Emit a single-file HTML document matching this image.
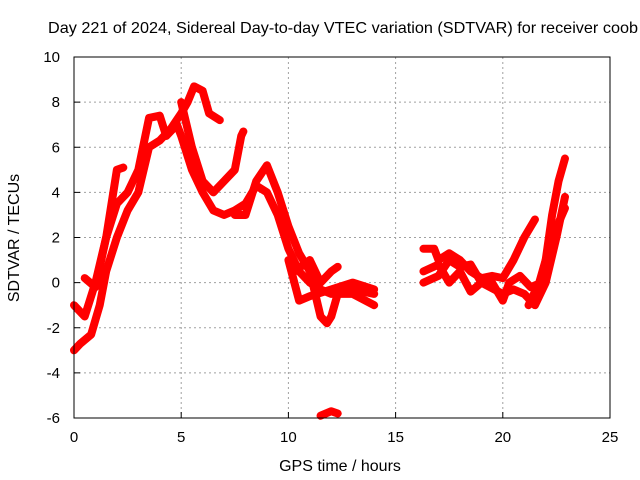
<!DOCTYPE html>
<html><head><meta charset="utf-8"><style>
body{margin:0;background:#fff}
svg{display:block;font-family:"Liberation Sans",sans-serif}
</style></head><body>
<svg id="chart" width="640" height="480" viewBox="0 0 640 480">
<rect width="640" height="480" fill="#fff"/>
<text x="48" y="33" font-size="16" textLength="590" lengthAdjust="spacingAndGlyphs">Day 221 of 2024, Sidereal Day-to-day VTEC variation (SDTVAR) for receiver coob</text>
<g id="grid"></g>
<g id="series"></g>
<rect x="74" y="57" width="536" height="361" fill="none" stroke="#000" stroke-width="1"/>
<g id="ticks"></g>
<text x="340" y="471" font-size="16" text-anchor="middle">GPS time / hours</text>
<text x="19" y="238" font-size="16" text-anchor="middle" transform="rotate(-90 19 238)">SDTVAR / TECUs</text>
</svg>
<script>
const xTicks=[0,5,10,15,20,25];
const yTicks=[-6,-4,-2,0,2,4,6,8,10];
const trackA=[[0,-3],[0.3,-2.7],[0.8,-2.3],[1.2,-1],[1.5,0.5],[2,2],[2.5,3.2],[3,4],[3.5,6],[4,6.3],[4.5,6.8],[5,7.5],[5.3,8],[5.6,8.7],[6,8.5],[6.3,7.5],[6.8,7.2]];
const trackB=[[0,-1],[0.5,-1.5],[1,0],[1.5,2],[2,3.5],[2.5,4],[3,5],[3.5,7.3],[4,7.4],[4.3,6.5],[4.8,7],[5,6.5],[5.5,5],[6,4],[6.5,3.2],[7,3],[7.5,3.2],[8,3.5],[8.5,4.3],[9,4],[9.5,3],[10,1.5],[10.5,0.5],[11,0],[11.5,-0.3],[12,-0.5],[13,-0.3],[14,-0.5]];
const trackC=[[0.5,0.2],[1,-0.2],[1.5,2],[2,5],[2.3,5.1]];
const trackD=[[5,8],[5.5,6],[6,4.5],[6.5,4],[7,4.5],[7.5,5],[7.8,6.5],[7.9,6.7]];
const trackE=[[7.5,3],[8,3],[8.5,4.5],[9,5.2],[9.5,4],[10,2.5],[10.5,1.3],[11,0.5],[11.5,-1.5],[11.8,-1.8],[12,-1.5],[12.3,-0.5],[13,-0.5],[14,-1]];
const trackF=[[10.3,0.5],[11,1],[11.5,0],[12,0.5],[12.3,0.7]];
const trackG=[[11.5,-5.9],[12,-5.7],[12.3,-5.8]];
const trackH=[[10,1],[10.5,-0.8],[11,-0.6],[12,-0.3],[13,0],[14,-0.3]];
const trackI=[[16.3,1.5],[16.8,1.5],[17,1],[17.5,1.3],[18,1],[18.5,0.5],[19,0.2],[19.5,0.3],[20,0.2],[20.5,1],[21,2],[21.5,2.8]];
const trackJ=[[16.3,0.5],[17,0.8],[17.5,0],[18,0.5],[18.5,-0.4],[19,0],[19.5,0],[20,-0.8],[20.3,0],[20.8,0.3],[21.3,-0.2],[21.8,0],[22,1],[22.3,3],[22.6,4.5],[22.9,5.5]];
const trackK=[[16.3,0],[17,0.3],[17.5,1],[18,0.7],[18.5,0.8],[19,0],[20,-0.5],[20.5,-0.3],[21,-0.5],[21.5,-1],[22,0],[22.5,2],[22.9,3.8]];
const trackL=[[21.2,-1],[21.7,0],[22.3,2],[22.9,3.3]];
const tracks=[trackA,trackB,trackC,trackD,trackE,trackF,trackG,trackH,trackI,trackJ,trackK,trackL];
const NS='http://www.w3.org/2000/svg';
const X0=74,X1=610,Y0=418,Y1=57;
function sx(v){return X0+(v-0)/(25-0)*(X1-X0);}
function sy(v){return Y0-(v+6)/(16)*(Y0-Y1);}
const grid=document.getElementById('grid'),ticks=document.getElementById('ticks'),series=document.getElementById('series');
function mk(t,a,p){const e=document.createElementNS(NS,t);for(const k in a)e.setAttribute(k,a[k]);p.appendChild(e);return e;}
xTicks.forEach(v=>{const x=sx(v);
 if(v>0&&v<25){const g=mk('line',{x1:x,x2:x,y1:Y1,y2:Y0,stroke:'#a0a0a0','stroke-dasharray':'2,3'},grid);
 
 }
 const t=mk('line',{x1:x,x2:x,y1:Y0,y2:Y0-6,stroke:'#000'},ticks);
 
 
 const l=mk('text',{x:x,y:Y0+24,'font-size':15,'text-anchor':'middle'},ticks);l.textContent=v;
 
 
});
yTicks.forEach(v=>{const y=sy(v);
 if(v>-6&&v<10){const g=mk('line',{x1:X0,x2:X1,y1:y,y2:y,stroke:'#a0a0a0','stroke-dasharray':'2,3'},grid);
 
 }
 const t=mk('line',{x1:X0,x2:X0+6,y1:y,y2:y,stroke:'#000'},ticks);
 
 
 const l=mk('text',{x:X0-14,y:y+5,'font-size':15,'text-anchor':'end'},ticks);l.textContent=v;
 
 
});
tracks.forEach(tr=>{
 const p=mk('polyline',{points:tr.map(d=>sx(d[0])+','+sy(d[1])).join(' '),fill:'none',stroke:'#ff0000','stroke-width':8,'stroke-linejoin':'round','stroke-linecap':'round'},series);
 
 
});
</script>
</body></html>
